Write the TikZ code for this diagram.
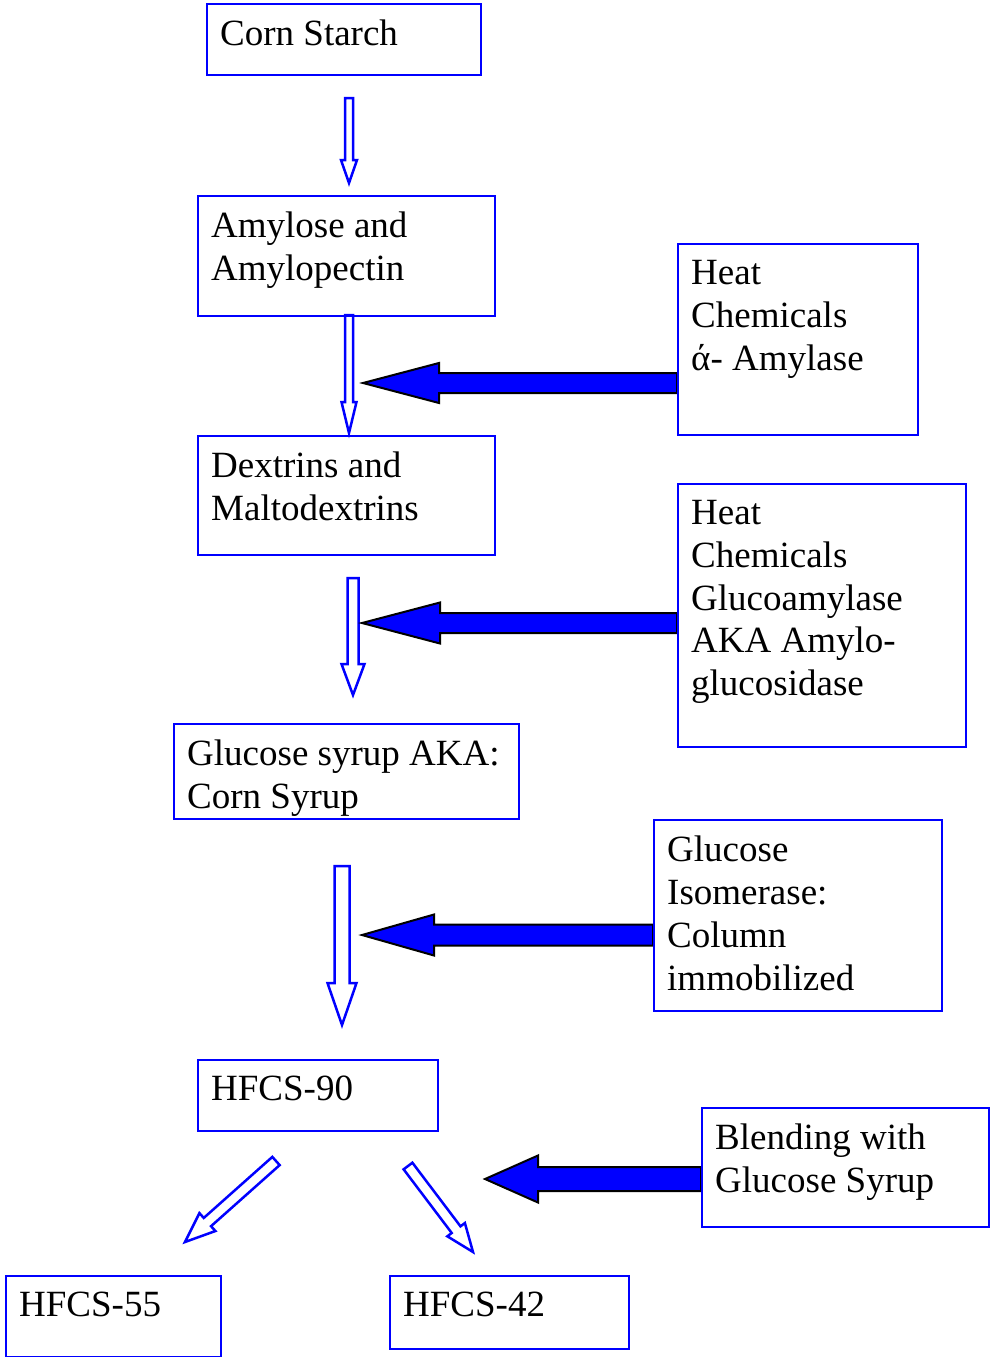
\documentclass[tikz,border=0pt]{standalone}
\usepackage{fontspec}
\setmainfont{Liberation Serif}
\usepackage{tikz}
\usetikzlibrary{calc, backgrounds}

% block arrow from #2 to #3: shaft half width #4, head half width #5, head length #6
\newcommand{\blockarrow}[6][]{%
  \coordinate (ba-h) at ($(#3)!#6pt!(#2)$);
  \draw[#1] ($(#2)!#4pt!90:(#3)$) -- ($(ba-h)!#4pt!90:(#3)$) -- ($(ba-h)!#5pt!90:(#3)$)
    -- (#3) -- ($(ba-h)!#5pt!-90:(#3)$) -- ($(ba-h)!#4pt!-90:(#3)$) -- ($(#2)!#4pt!-90:(#3)$) -- cycle;
}

\begin{document}
\begin{tikzpicture}[x=1pt, y=-1pt,
    box/.style={rectangle, draw=blue, line width=2pt, anchor=north west, inner sep=0pt},
    txt/.style={anchor=north west, align=left, inner xsep=14pt, inner ysep=17pt, font=\fontsize{37pt}{42.8pt}\selectfont},
    hollow/.style={draw=blue, line width=2.5pt, fill=white, line join=miter},
    solid/.style={draw=black, line width=2pt, fill=blue, line join=miter}
]
    \useasboundingbox (0,0) rectangle (990,1357);

    % boxes
    \node[box, minimum width=274pt, minimum height=71pt] (cs) at (206,3) {};
    \node[box, minimum width=297pt, minimum height=120pt] (amy) at (197,195) {};
    \node[box, minimum width=240pt, minimum height=191pt] (heat1) at (677,243) {};
    \node[box, minimum width=297pt, minimum height=119pt] (dex) at (197,435) {};
    \node[box, minimum width=288pt, minimum height=263pt] (heat2) at (677,483) {};
    \node[box, minimum width=345pt, minimum height=95pt] (gs) at (173,723) {};
    \node[box, minimum width=288pt, minimum height=191pt] (iso) at (653,819) {};
    \node[box, minimum width=240pt, minimum height=71pt] (h90) at (197,1059) {};
    \node[box, minimum width=287pt, minimum height=119pt] (blend) at (701,1107) {};
    \node[box, minimum width=215pt, minimum height=81pt] (h55) at (5,1275) {};
    \node[box, minimum width=239pt, minimum height=73pt] (h42) at (389,1275) {};

    % texts
    \node[txt] (cs-t) at (cs.north west) {Corn Starch};
    \node[txt] (amy-t) at (amy.north west) {Amylose and\\Amylopectin};
    \node[txt] (heat1-t) at (heat1.north west) {Heat\\Chemicals\\ά- Amylase};
    \node[txt] (dex-t) at (dex.north west) {Dextrins and\\Maltodextrins};
    \node[txt] (heat2-t) at (heat2.north west) {Heat\\Chemicals\\Glucoamylase\\AKA Amylo-\\glucosidase};
    \node[txt] (gs-t) at (gs.north west) {Glucose syrup AKA:\\Corn Syrup};
    \node[txt] (iso-t) at (iso.north west) {Glucose\\Isomerase:\\Column\\immobilized};
    \node[txt] (h90-t) at (h90.north west) {HFCS-90};
    \node[txt] (blend-t) at (blend.north west) {Blending with\\Glucose Syrup};
    \node[txt] (h55-t) at (h55.north west) {HFCS-55};
    \node[txt] (h42-t) at (h42.north west) {HFCS-42};

    % arrow ends
    \coordinate (d1a) at (349,98);    \coordinate (d1b) at (349,183);
    \coordinate (d2a) at (349,315);   \coordinate (d2b) at (349,433);
    \coordinate (d3a) at (353,578);   \coordinate (d3b) at (353,695);
    \coordinate (d4a) at (342,866);   \coordinate (d4b) at (342,1025);
    \coordinate (l1a) at (276,1161);  \coordinate (l1b) at (185,1242);
    \coordinate (r1a) at (408,1166);  \coordinate (r1b) at (473,1252);
    \coordinate (f1b) at (363,383);   \coordinate (f1a) at (heat1.west |- f1b);
    \coordinate (f2b) at (362,623);   \coordinate (f2a) at (heat2.west |- f2b);
    \coordinate (f3b) at (362,935);   \coordinate (f3a) at (iso.west |- f3b);
    \coordinate (f4b) at (485,1179);  \coordinate (f4a) at (blend.west |- f4b);

    \begin{scope}[on background layer]
        \blockarrow[hollow]{d1a}{d1b}{4}{8}{23}
        \blockarrow[hollow]{d2a}{d2b}{4}{7.5}{31}
        \blockarrow[hollow]{d3a}{d3b}{5.5}{11.5}{31}
        \blockarrow[hollow]{d4a}{d4b}{7.5}{14.5}{42}
        \blockarrow[hollow]{l1a}{l1b}{5.5}{12}{30}
        \blockarrow[hollow]{r1a}{r1b}{5.5}{11}{28}
        \blockarrow[solid]{f1a}{f1b}{10}{20}{76}
        \blockarrow[solid]{f2a}{f2b}{10}{20.5}{78}
        \blockarrow[solid]{f3a}{f3b}{10.5}{20.5}{72}
        \blockarrow[solid]{f4a}{f4b}{12}{23.5}{53}
    \end{scope}
\end{tikzpicture}
\end{document}
